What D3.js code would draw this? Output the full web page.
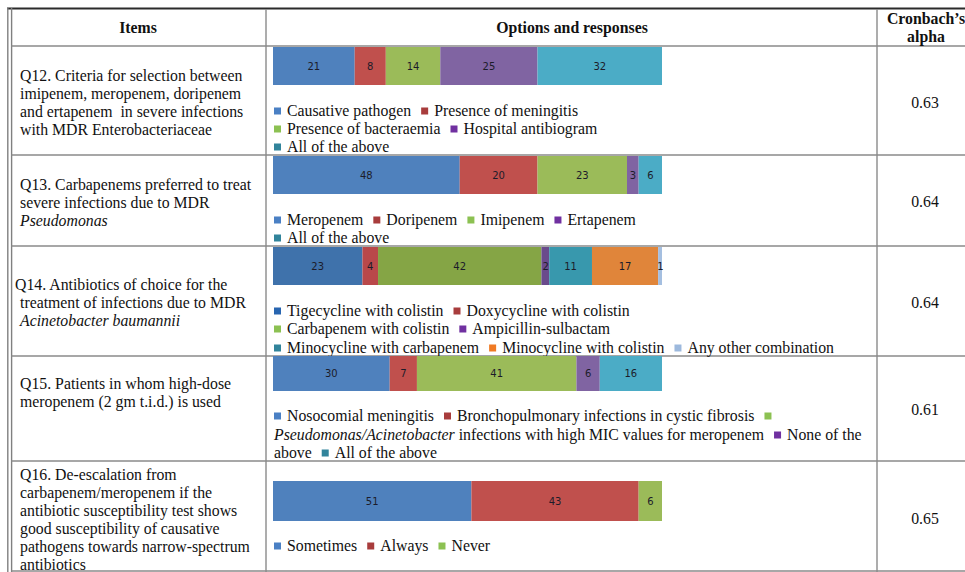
<!DOCTYPE html>
<html><head><meta charset="utf-8">
<script src="https://cdn.jsdelivr.net/npm/d3@7"></script>
<style>
html,body{margin:0;padding:0;background:#fff;}
svg{display:block;}
</style></head>
<body>
<svg id="chart" width="965" height="572"></svg>
<script>
// ---------------- DATA ----------------
const headers = ["Items", "Options and responses", "Cronbach\u2019s", "alpha"];
const questionIds = ["Q12", "Q13", "Q14", "Q15", "Q16"];

const q12Options = ["Causative pathogen", "Presence of meningitis", "Presence of bacteraemia", "Hospital antibiogram", "All of the above"];
const q12Values = [21, 8, 14, 25, 32];

const q13Options = ["Meropenem", "Doripenem", "Imipenem", "Ertapenem", "All of the above"];
const q13Values = [48, 20, 23, 3, 6];

const q14Options = ["Tigecycline with colistin", "Doxycycline with colistin", "Carbapenem with colistin", "Ampicillin-sulbactam", "Minocycline with carbapenem", "Minocycline with colistin", "Any other combination"];
const q14Values = [23, 4, 42, 2, 11, 17, 1];

const q15Options = ["Nosocomial meningitis", "Bronchopulmonary infections in cystic fibrosis", "Pseudomonas/Acinetobacter infections with high MIC values for meropenem", "None of the above", "All of the above"];
const q15Values = [30, 7, 41, 6, 16];

const q16Options = ["Sometimes", "Always", "Never"];
const q16Values = [51, 43, 6];

const alphaValues = [0.63, 0.64, 0.64, 0.61, 0.65];

// item text lines ("_" prefix = italic)
const q12Text = ["Q12. Criteria for selection between", "imipenem, meropenem, doripenem", "and ertapenem  in severe infections", "with MDR Enterobacteriaceae"];
const q13Text = ["Q13. Carbapenems preferred to treat", "severe infections due to MDR", "_Pseudomonas"];
const q14Text = ["Q14. Antibiotics of choice for the", "treatment of infections due to MDR", "_Acinetobacter baumannii"];
const q15Text = ["Q15. Patients in whom high-dose", "meropenem (2 gm t.i.d.) is used"];
const q16Text = ["Q16. De-escalation from", "carbapenem/meropenem if the", "antibiotic susceptibility test shows", "good susceptibility of causative", "pathogens towards narrow-spectrum", "antibiotics"];

// legend line breaks: number = marker + full option label; {m:i} = marker only; strings = text ("_" italic)
const q12Legend = [[0, 1], [2, 3], [4]];
const q13Legend = [[0, 1, 2, 3], [4]];
const q14Legend = [[0, 1], [2, 3], [4, 5, 6]];
const q15Legend = [[0, 1, {m: 2}], ["_Pseudomonas/Acinetobacter", " infections with high MIC values for meropenem", {m: 3}, "None of the"], ["above", 4]];
const q16Legend = [[0, 1, 2]];

// ---------------- STYLE / LAYOUT ----------------
const baseColors = ["#4F81BD", "#C0504D", "#9BBB59", "#8064A2", "#4BACC6"];
const q14Colors = ["#3F72AB", "#B9484A", "#85A545", "#6A4B8C", "#3898AD", "#E0853A", "#A5BFE0"];
const baseMarkers = ["#4A80C4", "#A83C3C", "#8CC152", "#7030A0", "#31849B"];
const q14Markers = ["#2865B0", "#A83C3C", "#8CC152", "#7030A0", "#31849B", "#F07A24", "#9DB9DD"];

const rows = [
  {opts: q12Options, vals: q12Values, text: q12Text, legend: q12Legend, colors: baseColors, markers: baseMarkers,
   top: 46, bottom: 155, barY: 47, barH: 38, textY: [75, 93, 111, 129], textX: [20, 20, 20, 20], legY: [110, 128, 146], alphaY: 102},
  {opts: q13Options, vals: q13Values, text: q13Text, legend: q13Legend, colors: baseColors, markers: baseMarkers,
   top: 155, bottom: 246, barY: 156, barH: 38, textY: [184, 202, 220], textX: [20, 20, 20], legY: [219, 237], alphaY: 201},
  {opts: q14Options, vals: q14Values, text: q14Text, legend: q14Legend, colors: q14Colors, markers: q14Markers,
   top: 246, bottom: 356, barY: 247, barH: 38, textY: [284, 302, 320], textX: [15, 20, 20], legY: [310, 328, 347], alphaY: 302},
  {opts: q15Options, vals: q15Values, text: q15Text, legend: q15Legend, colors: baseColors, markers: baseMarkers,
   top: 356, bottom: 461, barY: 356, barH: 35, textY: [383, 401], textX: [20, 20], legY: [415, 434, 452], alphaY: 409},
  {opts: q16Options, vals: q16Values, text: q16Text, legend: q16Legend, colors: baseColors, markers: baseMarkers,
   top: 461, bottom: 571, barY: 481, barH: 40, textY: [474, 492, 510, 528, 546, 564], textX: [20, 20, 20, 20, 20, 20], legY: [545], alphaY: 518}
];

const serif = "'Liberation Serif','Times New Roman',serif";
const fs = 15.8;
const svg = d3.select("#chart");
const x = d3.scaleLinear().domain([0, 100]).range([273, 662]);

// ---------------- GRID ----------------
const grid = svg.append("g");
const gray = "#8a8a8a";
// top border
grid.append("line").attr("x1", 7).attr("x2", 965).attr("y1", 8.5).attr("y2", 8.5).attr("stroke", "#2b2b2b").attr("stroke-width", 2.2);
// left double border
[7.8, 11.6].forEach(xx => grid.append("line").attr("x1", xx).attr("x2", xx).attr("y1", 8).attr("y2", 572).attr("stroke", "#808080").attr("stroke-width", 1.4));
// header bottom + row bottoms
[46].concat(rows.map(r => r.bottom)).forEach(yy =>
  grid.append("line").attr("x1", 11.6).attr("x2", 965).attr("y1", yy).attr("y2", yy).attr("stroke", gray).attr("stroke-width", 1.5));
// column separators
[266, 877].forEach(xx => grid.append("line").attr("x1", xx).attr("x2", xx).attr("y1", 9).attr("y2", 572).attr("stroke", gray).attr("stroke-width", 1.4));

// ---------------- HEADERS ----------------
const hdr = svg.append("g").attr("font-family", serif).attr("font-weight", "bold").attr("font-size", fs).attr("fill", "#111").attr("text-anchor", "middle");
hdr.append("text").attr("x", 138).attr("y", 33).text(headers[0]);
hdr.append("text").attr("x", 572).attr("y", 33).text(headers[1]);
hdr.append("text").attr("x", 926).attr("y", 24).text(headers[2]);
hdr.append("text").attr("x", 926).attr("y", 42).text(headers[3]);

// ---------------- ROWS ----------------
rows.forEach(r => {
  const g = svg.append("g");
  // item text
  r.text.forEach((line, i) => {
    const it = line.startsWith("_");
    g.append("text").attr("x", r.textX[i]).attr("y", r.textY[i] + 5.5)
      .attr("font-family", serif).attr("font-size", fs).attr("fill", "#111")
      .attr("font-style", it ? "italic" : "normal").attr("xml:space", "preserve")
      .text(it ? line.slice(1) : line);
  });
  // stacked bar
  const stack = [];
  let acc = 0;
  r.vals.forEach((v, i) => { stack.push({v, i, x0: acc, x1: acc + v}); acc += v; });
  g.selectAll("rect.seg").data(stack).enter().append("rect")
    .attr("x", d => x(d.x0)).attr("width", d => x(d.x1) - x(d.x0))
    .attr("y", r.barY).attr("height", r.barH)
    .attr("fill", d => r.colors[d.i]);
  g.selectAll("text.lab").data(stack).enter().append("text")
    .attr("x", d => (x(d.x0) + x(d.x1)) / 2 + (d.v < 3 ? 0.5 : 0))
    .attr("y", r.barY + r.barH / 2 + 3.8)
    .attr("text-anchor", "middle").attr("font-family", "'DejaVu Sans',sans-serif").attr("font-size", 10)
    .attr("fill", "#1c1c2a").text(d => d.v);
  // legend
  r.legend.forEach((line, li) => {
    let cx = 274;
    const yy = r.legY[li];
    line.forEach((tok, ti) => {
      let marker = null, label = null, italic = false;
      if (typeof tok === "number") { marker = tok; label = r.opts[tok]; }
      else if (typeof tok === "object") { marker = tok.m; }
      else { label = tok; if (label.startsWith("_")) { italic = true; label = label.slice(1); } }
      if (marker !== null) {
        if (ti > 0) cx += 10;
        g.append("rect").attr("x", cx).attr("y", yy - 2.5).attr("width", 7).attr("height", 7).attr("fill", r.markers[marker]);
        cx += 13;
      }
      if (label !== null) {
        const t = g.append("text").attr("x", cx).attr("y", yy + 5.5)
          .attr("font-family", serif).attr("font-size", fs).attr("fill", "#111")
          .attr("font-style", italic ? "italic" : "normal").attr("xml:space", "preserve").text(label);
        cx += t.node().getComputedTextLength();
      }
    });
  });
  // alpha
  g.append("text").attr("x", 925).attr("y", r.alphaY + 5.5).attr("text-anchor", "middle")
    .attr("font-family", serif).attr("font-size", fs).attr("fill", "#111").text(d3.format(".2f")(alphaValues[rows.indexOf(r)]));
});
</script>
</body></html>
